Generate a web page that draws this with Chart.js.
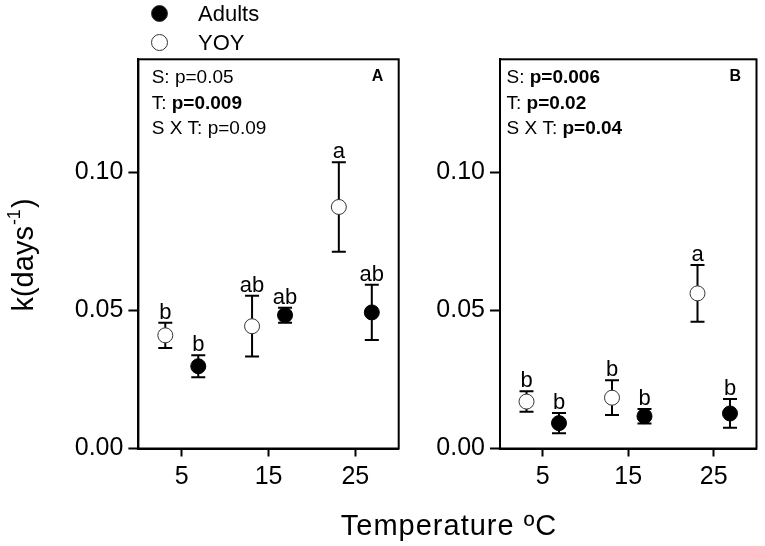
<!DOCTYPE html>
<html><head><meta charset="utf-8">
<script src="https://cdn.jsdelivr.net/npm/chart.js@4.4.1/dist/chart.umd.min.js"></script>
<style>
html,body{margin:0;padding:0;background:#fff;width:765px;height:546px;overflow:hidden;}
#wrap{position:relative;width:765px;height:546px;}
canvas{position:absolute;top:0;}
#cA{left:0;}
#cB{left:400px;}
</style></head>
<body><div id="wrap"><canvas id="cA" width="765" height="546"></canvas><canvas id="cB" width="365" height="546"></canvas></div>
<script>
// ---- data ----
const temps = [5, 15, 25];
const xTicks = [5, 15, 25];
const yTicks = [0, 0.05, 0.10];
const seriesNames = ['Adults', 'YOY'];

const A_adultMean = [0.0298, 0.0483, 0.0493];
const A_adultErr  = [0.0040, 0.0027, 0.0100];
const A_yoyMean   = [0.0410, 0.0443, 0.0875];
const A_yoyErr    = [0.0046, 0.0110, 0.0162];
const A_adultLetters = ['b', 'ab', 'ab'];
const A_yoyLetters   = ['b', 'ab', 'a'];
const A_stats = [['S: ', 'p=0.05', false], ['T: ', 'p=0.009', true], ['S X T: ', 'p=0.09', false]];

const B_adultMean = [0.0092, 0.0117, 0.0127];
const B_adultErr  = [0.0037, 0.0026, 0.0052];
const B_yoyMean   = [0.0170, 0.0184, 0.0562];
const B_yoyErr    = [0.0037, 0.0063, 0.0103];
const B_adultLetters = ['b', 'b', 'b'];
const B_yoyLetters   = ['b', 'b', 'a'];
const B_stats = [['S: ', 'p=0.006', true], ['T: ', 'p=0.02', true], ['S X T: ', 'p=0.04', true]];

const yTitleMain = 'k(days';
const yTitleSup = '-1';
const yTitleEnd = ')';
const xTitle = 'Temperature \u00BAC';

// ---- styling ----
const FONT = '"Liberation Sans", Arial, Helvetica, sans-serif';
Chart.defaults.font.family = FONT;
Chart.defaults.color = '#000';
const OFF = 1.9;

const panelPlugin = {
  id: 'panel',
  beforeDatasetsDraw(chart) {
    const o = chart.options.plugins.panel;
    const ctx = chart.ctx, xs = chart.scales.x, ys = chart.scales.y;
    ctx.save();
    ctx.strokeStyle = '#000';
    ctx.fillStyle = '#000';
    chart.data.datasets.forEach((ds, di) => {
      const err = o.errs[di], lets = o.letters[di];
      ds.data.forEach((p, i) => {
        const px = xs.getPixelForValue(p.x);
        const yt = ys.getPixelForValue(p.y + err[i]);
        const yb = ys.getPixelForValue(p.y - err[i]);
        ctx.lineWidth = 2;
        ctx.beginPath();
        ctx.moveTo(px, yt); ctx.lineTo(px, yb);
        ctx.moveTo(px - 7, yt); ctx.lineTo(px + 7, yt);
        ctx.moveTo(px - 7, yb); ctx.lineTo(px + 7, yb);
        ctx.stroke();
        ctx.font = '22px ' + FONT;
        ctx.textAlign = 'center';
        ctx.textBaseline = 'alphabetic';
        ctx.fillText(lets[i], px, yt - 4);
      });
    });
    ctx.restore();
  },
  afterDraw(chart) {
    const o = chart.options.plugins.panel;
    const ctx = chart.ctx, a = chart.chartArea;
    ctx.save();
    ctx.strokeStyle = '#000';
    ctx.lineWidth = 2;
    ctx.strokeRect(a.left, a.top, a.right - a.left, a.bottom - a.top);
    ctx.fillStyle = '#000';
    ctx.textBaseline = 'alphabetic';
    ctx.textAlign = 'left';
    o.stats.forEach((s, i) => {
      const y = a.top + 24 + i * 25.5;
      let x = a.left + o.statsX;
      ctx.font = '19px ' + FONT;
      ctx.fillText(s[0], x, y);
      x += ctx.measureText(s[0]).width;
      ctx.font = (s[2] ? 'bold ' : '') + '19px ' + FONT;
      ctx.fillText(s[1], x, y);
    });
    ctx.font = 'bold 16px ' + FONT;
    ctx.textAlign = 'right';
    ctx.fillText(o.label, a.right - 15.5, a.top + 22);
    ctx.restore();
  }
};

const extrasPlugin = {
  id: 'extras',
  afterDraw(chart) {
    const ctx = chart.ctx;
    ctx.save();
    ctx.fillStyle = '#000';
    ctx.translate(33.3, 255);
    ctx.rotate(-Math.PI / 2);
    ctx.textBaseline = 'alphabetic';
    ctx.textAlign = 'left';
    ctx.font = '29px ' + FONT;
    const w1 = ctx.measureText(yTitleMain).width;
    const w3 = ctx.measureText(yTitleEnd).width;
    ctx.font = '18px ' + FONT;
    const w2 = ctx.measureText(yTitleSup).width;
    const W = w1 + w2 + w3 + 2;
    let x = -W / 2;
    ctx.font = '29px ' + FONT;
    ctx.fillText(yTitleMain, x, 0);
    x += w1;
    ctx.font = '18px ' + FONT;
    ctx.fillText(yTitleSup, x + 1, -13);
    x += w2 + 2;
    ctx.font = '29px ' + FONT;
    ctx.fillText(yTitleEnd, x, 0);
    ctx.restore();

    ctx.save();
    ctx.fillStyle = '#000';
    ctx.font = '29px ' + FONT;
    try { ctx.letterSpacing = '1px'; } catch (e) {}
    ctx.textAlign = 'center';
    ctx.textBaseline = 'alphabetic';
    ctx.fillText(xTitle, 449, 534.5);
    try { ctx.letterSpacing = '0px'; } catch (e) {}
    const items = [
      {name: seriesNames[0], fill: '#000', y: 13.5, ty: 21},
      {name: seriesNames[1], fill: '#fff', y: 42.5, ty: 50}
    ];
    ctx.font = '22px ' + FONT;
    ctx.textAlign = 'left';
    items.forEach(it => {
      ctx.beginPath();
      ctx.arc(159.5, it.y, 8, 0, Math.PI * 2);
      ctx.fillStyle = it.fill;
      ctx.fill();
      ctx.lineWidth = 1;
      ctx.strokeStyle = '#333';
      ctx.stroke();
      ctx.fillStyle = '#000';
      ctx.fillText(it.name, 198, it.ty);
    });
    ctx.restore();
  }
};

function makePanel(canvasId, padRight, yWidth, adultMean, adultErr, yoyMean, yoyErr, adultLetters, yoyLetters, stats, label, statsX, extraPlugins) {
  const adultData = temps.map((t, i) => ({x: t + OFF, y: adultMean[i]}));
  const yoyData = temps.map((t, i) => ({x: t - OFF, y: yoyMean[i]}));
  return new Chart(document.getElementById(canvasId), {
    type: 'scatter',
    data: {
      datasets: [
        {label: seriesNames[0], data: adultData, pointRadius: 7.5, pointBackgroundColor: '#000', pointBorderColor: '#000', pointBorderWidth: 1, showLine: false},
        {label: seriesNames[1], data: yoyData, pointRadius: 7.5, pointBackgroundColor: '#fff', pointBorderColor: '#333', pointBorderWidth: 1, showLine: false}
      ]
    },
    options: {
      responsive: false,
      animation: false,
      devicePixelRatio: 1,
      layout: {padding: {top: 59.3, right: padRight, left: 0, bottom: 0}},
      plugins: {
        legend: {display: false},
        tooltip: {enabled: false},
        panel: {errs: [adultErr, yoyErr], letters: [adultLetters, yoyLetters], stats: stats, label: label, statsX: statsX}
      },
      scales: {
        x: {
          type: 'linear', min: 0, max: 30,
          afterBuildTicks: s => { s.ticks = xTicks.map(v => ({value: v})); },
          afterFit: s => { s.height = 97.5; },
          ticks: {font: {size: 25}, padding: 6, color: '#000', callback: v => String(v)},
          grid: {drawOnChartArea: false, drawTicks: true, tickLength: 8, tickWidth: 2, tickColor: '#000'},
          border: {display: true, color: '#000', width: 2}
        },
        y: {
          type: 'linear', min: 0, max: 0.141,
          afterBuildTicks: s => { s.ticks = yTicks.map(v => ({value: v})); },
          afterFit: s => { s.width = yWidth; },
          ticks: {font: {size: 25}, padding: 5, color: '#000', callback: v => v.toFixed(2)},
          grid: {drawOnChartArea: false, drawTicks: true, tickLength: 10, tickWidth: 2, tickColor: '#000'},
          border: {display: true, color: '#000', width: 2}
        }
      }
    },
    plugins: [panelPlugin].concat(extraPlugins)
  });
}

makePanel('cA', 765 - 398.7, 138.4, A_adultMean, A_adultErr, A_yoyMean, A_yoyErr, A_adultLetters, A_yoyLetters, A_stats, 'A', 13.3, [extrasPlugin]);
makePanel('cB', 5, 100, B_adultMean, B_adultErr, B_yoyMean, B_yoyErr, B_adultLetters, B_yoyLetters, B_stats, 'B', 6.5, []);
</script>
</body></html>
